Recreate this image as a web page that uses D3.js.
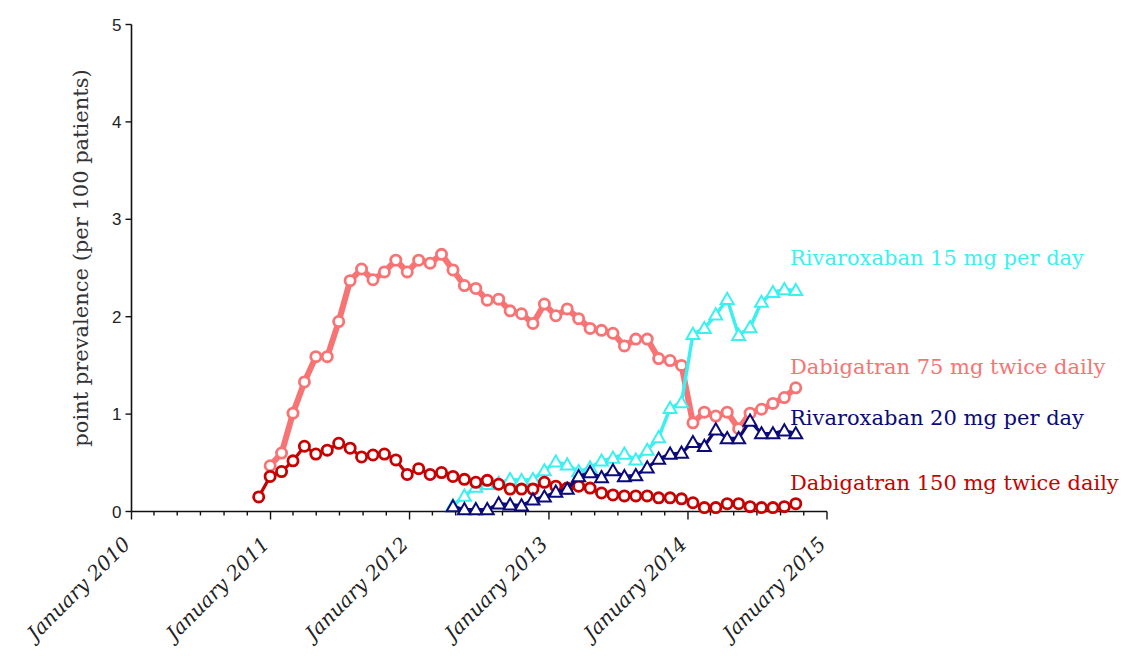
<!DOCTYPE html>
<html>
<head>
<meta charset="utf-8">
<script src="https://cdn.jsdelivr.net/npm/d3@7"></script>
<style>
  html, body { margin: 0; padding: 0; background: #fff; }
  svg { display: block; }
</style>
</head>
<body>
<svg id="chart" width="1140" height="656"></svg>
<script>
// Survey dates (roughly 30-day cycle)
const surveyDates = [
  "2010-12-01", "2010-12-31", "2011-01-30", "2011-03-01", "2011-03-31", "2011-04-30",
  "2011-05-30", "2011-06-29", "2011-07-29", "2011-08-28", "2011-09-27", "2011-10-27",
  "2011-11-26", "2011-12-26", "2012-01-25", "2012-02-24", "2012-03-25", "2012-04-24",
  "2012-05-24", "2012-06-23", "2012-07-23", "2012-08-22", "2012-09-21", "2012-10-21",
  "2012-11-20", "2012-12-20", "2013-01-19", "2013-02-18", "2013-03-20", "2013-04-19",
  "2013-05-19", "2013-06-18", "2013-07-18", "2013-08-17", "2013-09-16", "2013-10-16",
  "2013-11-15", "2013-12-15", "2014-01-14", "2014-02-13", "2014-03-15", "2014-04-14",
  "2014-05-14", "2014-06-13", "2014-07-13", "2014-08-12", "2014-09-11", "2014-10-11"
];

// Point prevalence per 100 patients
const dabigatran150 = [
  0.15, 0.36, 0.41, 0.52, 0.67, 0.59, 0.63, 0.70, 0.65, 0.56, 0.58, 0.59,
  0.53, 0.38, 0.44, 0.38, 0.40, 0.36, 0.33, 0.30, 0.32, 0.28, 0.23, 0.23,
  0.23, 0.30, 0.26, 0.24, 0.26, 0.24, 0.19, 0.17, 0.16, 0.16, 0.16, 0.14,
  0.14, 0.13, 0.09, 0.04, 0.04, 0.08, 0.08, 0.05, 0.04, 0.04, 0.05, 0.08
];
const dabigatran75Start = 1;
const dabigatran75 = [
  0.47, 0.60, 1.01, 1.33, 1.59, 1.59, 1.95, 2.37, 2.49, 2.38, 2.46, 2.58,
  2.46, 2.58, 2.55, 2.64, 2.48, 2.32, 2.29, 2.17, 2.18, 2.06, 2.03, 1.93,
  2.13, 2.01, 2.08, 1.98, 1.88, 1.86, 1.83, 1.70, 1.77, 1.77, 1.57, 1.55,
  1.50, 0.91, 1.02, 0.98, 1.02, 0.85, 1.01, 1.05, 1.11, 1.17, 1.27
];
const rivaroxabanStart = 17;
const rivaroxaban15 = [
  0.06, 0.16, 0.25, 0.28, 0.29, 0.33, 0.32, 0.33, 0.42, 0.51, 0.48, 0.41,
  0.45, 0.52, 0.55, 0.59, 0.53, 0.63, 0.76, 1.06, 1.12, 1.82, 1.88, 2.02,
  2.18, 1.81, 1.89, 2.15, 2.25, 2.28, 2.27
];
const rivaroxaban20 = [
  0.05, 0.02, 0.02, 0.02, 0.08, 0.07, 0.06, 0.12, 0.15, 0.20, 0.23, 0.36,
  0.40, 0.35, 0.42, 0.36, 0.37, 0.45, 0.54, 0.59, 0.60, 0.71, 0.67, 0.84,
  0.75, 0.75, 0.93, 0.80, 0.80, 0.83, 0.80
];

const yTicks = [0, 1, 2, 3, 4, 5];
const yearTickLabels = ["January 2010", "January 2011", "January 2012", "January 2013", "January 2014", "January 2015"];
const yTitle = "point prevalence (per 100 patients)";

const parse = d3.timeParse("%Y-%m-%d");
const dates = surveyDates.map(parse);

const svg = d3.select("#chart");
const serif = "'DejaVu Serif', 'Liberation Serif', serif";

const x = d3.scaleTime()
  .domain([new Date(2010, 0, 1), new Date(2015, 0, 1)])
  .range([131.5, 827]);
const y = d3.scaleLinear().domain([0, 5]).range([511.5, 24.5]);

// ----- axes -----
const axisColor = "#111";
svg.append("line")
  .attr("x1", x.range()[0]).attr("x2", x.range()[0])
  .attr("y1", y(5)).attr("y2", y(0))
  .attr("stroke", axisColor).attr("stroke-width", 1.6);
svg.append("line")
  .attr("x1", x.range()[0]).attr("x2", x.range()[1])
  .attr("y1", y(0)).attr("y2", y(0))
  .attr("stroke", axisColor).attr("stroke-width", 1.6);

// y ticks and labels
const yg = svg.append("g");
yg.selectAll("line").data(yTicks).join("line")
  .attr("x1", x.range()[0] - 6).attr("x2", x.range()[0])
  .attr("y1", d => y(d)).attr("y2", d => y(d))
  .attr("stroke", axisColor).attr("stroke-width", 1.4);
yg.selectAll("text").data(yTicks).join("text")
  .attr("x", x.range()[0] - 10).attr("y", d => y(d) + 6)
  .attr("text-anchor", "end")
  .attr("font-family", "'Liberation Sans', Arial, sans-serif")
  .attr("font-size", 17)
  .attr("fill", "#222")
  .text(d => d);

// x ticks every two months, longer at each January
const tickDates = d3.timeMonth.every(2).range(new Date(2010, 0, 1), new Date(2015, 0, 2));
const xg = svg.append("g");
xg.selectAll("line").data(tickDates).join("line")
  .attr("x1", d => x(d)).attr("x2", d => x(d))
  .attr("y1", y(0))
  .attr("y2", d => y(0) + (d.getMonth() === 0 ? 8 : 4))
  .attr("stroke", axisColor).attr("stroke-width", 1.4);

const yearTicks = d3.timeYear.range(new Date(2010, 0, 1), new Date(2015, 0, 2));
xg.selectAll("text").data(yearTicks).join("text")
  .attr("transform", d => `translate(${x(d)},${y(0) + 34}) rotate(-45)`)
  .attr("text-anchor", "end")
  .attr("font-family", serif)
  .attr("font-style", "italic")
  .attr("font-size", 20)
  .attr("fill", "#222")
  .text((d, i) => yearTickLabels[i]);

// y title
svg.append("text")
  .attr("transform", `translate(88,258) rotate(-90)`)
  .attr("text-anchor", "middle")
  .attr("font-family", serif)
  .attr("font-size", 21)
  .attr("fill", "#333")
  .text(yTitle);

// ----- series -----
const series = [
  { name: "Dabigatran 75 mg twice daily", values: dabigatran75, start: dabigatran75Start,
    color: "#f87474", lineWidth: 6, marker: "circle", labelY: 374 },
  { name: "Rivaroxaban 15 mg per day", values: rivaroxaban15, start: rivaroxabanStart,
    color: "#3cf0f0", lineWidth: 3.5, marker: "triangle", labelY: 265 },
  { name: "Dabigatran 150 mg twice daily", values: dabigatran150, start: 0,
    color: "#c80000", lineWidth: 3.2, marker: "circle", labelY: 490 },
  { name: "Rivaroxaban 20 mg per day", values: rivaroxaban20, start: rivaroxabanStart,
    color: "#0a0a7a", lineWidth: 3.2, marker: "triangle", labelY: 425 }
];

const line = d3.line().x(d => x(d.date)).y(d => y(d.value));
const tri = d3.symbol().type(d3.symbolTriangle).size(72);

series.forEach(s => {
  const pts = s.values.map((v, i) => ({ date: dates[s.start + i], value: v }));
  const g = svg.append("g");
  g.append("path")
    .attr("d", line(pts))
    .attr("fill", "none")
    .attr("stroke", s.color)
    .attr("stroke-width", s.lineWidth)
    .attr("stroke-linejoin", "round");
  if (s.marker === "circle") {
    g.selectAll("circle").data(pts).join("circle")
      .attr("cx", d => x(d.date)).attr("cy", d => y(d.value))
      .attr("r", 5.1)
      .attr("fill", "#fff")
      .attr("stroke", s.color)
      .attr("stroke-width", 2.8);
  } else {
    g.selectAll("path.m").data(pts).join("path")
      .attr("class", "m")
      .attr("d", tri)
      .attr("transform", d => `translate(${x(d.date)},${y(d.value) + 1})`)
      .attr("fill", "#fff")
      .attr("stroke", s.color)
      .attr("stroke-width", 2);
  }
  svg.append("text")
    .attr("x", 790).attr("y", s.labelY)
    .attr("font-family", serif)
    .attr("font-size", 21)
    .attr("fill", s.color)
    .text(s.name);
});
</script>
</body>
</html>
